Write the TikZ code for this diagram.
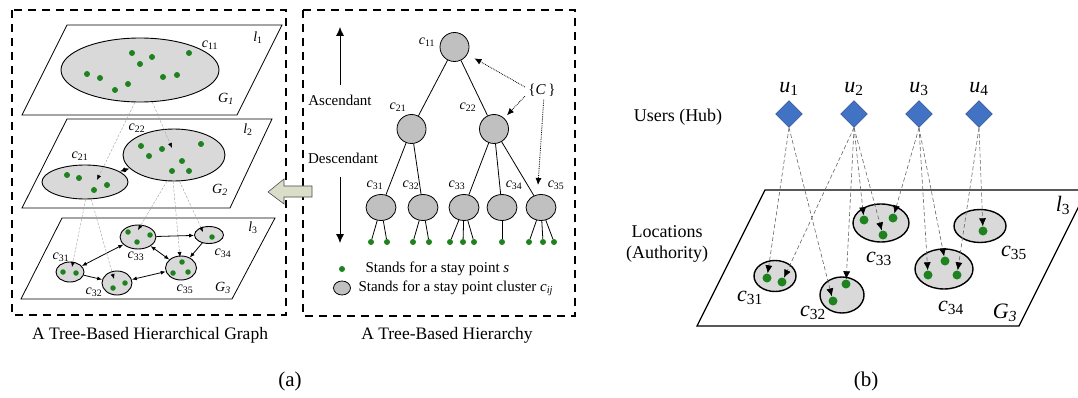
\documentclass[tikz,border=0pt]{standalone}
\usepackage{fontspec}
\setmainfont{Liberation Serif}
\usetikzlibrary{shapes.geometric,arrows.meta}
\definecolor{ptgreen}{RGB}{30,130,30}
\definecolor{clfill}{RGB}{217,217,217}
\definecolor{trfill}{RGB}{192,192,192}
\definecolor{hubblue}{RGB}{66,114,196}
\definecolor{hubedge}{RGB}{40,70,130}
\definecolor{backfill}{RGB}{218,222,200}
\newcommand{\lbl}[2]{\textit{#1}\textsubscript{#2}}

\begin{document}
\begin{tikzpicture}[x=1pt,y=-1pt,
    dashbox/.style={line width=1.3pt,dash pattern=on 8pt off 6pt},
    plane/.style={draw,fill=white,line width=0.8pt},
    clus/.style={ellipse,draw,fill=clfill,line width=0.9pt,inner sep=0pt},
    spt/.style={circle,fill=ptgreen,inner sep=0pt,minimum size=6pt},
    tnode/.style={circle,draw,fill=trfill,line width=0.8pt,inner sep=0pt,minimum size=29pt},
    link/.style={gray!70,dash pattern=on 2.5pt off 1.5pt,line width=0.45pt,-{Latex[black,length=5pt,width=4pt]}},
    gedge/.style={line width=0.8pt,-{Latex[length=5pt,width=4pt]}},
    gboth/.style={line width=0.8pt,{Latex[length=5pt,width=4pt]}-{Latex[length=5pt,width=4pt]}},
    ptr/.style={densely dotted,line width=0.8pt,-{Latex[length=7pt,width=6pt]}},
    hub/.style={diamond,draw=hubedge,fill=hubblue,inner sep=0pt,minimum size=27pt},
    hublink/.style={gray!80!black,dash pattern=on 4pt off 2.5pt,line width=0.6pt,-{Latex[black,length=8pt,width=7pt]}},
    txa/.style={font=\fontsize{14}{16}\selectfont},
    txb/.style={font=\fontsize{15}{17}\selectfont},
    captxt/.style={font=\fontsize{17.5}{20}\selectfont},
    txr/.style={font=\fontsize{18}{21}\selectfont},
    lr/.style={font=\fontsize{22}{24}\selectfont},
    bigtxt/.style={font=\fontsize{21}{24}\selectfont}]
    \useasboundingbox (0,0) rectangle (1078,398);
    \clip (0,0) rectangle (1078,398);

    % (a) left: hierarchical graph
    \draw[dashbox] (12,10) rectangle (286,315);
    \draw[plane] (67,25) -- (282,25) -- (237,115) -- (22,115) -- cycle;
    \draw[plane] (67,119) -- (272,119) -- (230,208) -- (22,208) -- cycle;
    \draw[plane] (62,218) -- (275,218) -- (232,299) -- (21,299) -- cycle;
    \node[txa] at (258,38) {\lbl{l}{1}};
    \node[txa] at (226,99) {\textit{G}\textsubscript{\textit{1}}};
    \node[txa] at (248,130) {\lbl{l}{2}};
    \node[txa] at (220,190) {\textit{G}\textsubscript{\textit{2}}};
    \node[txa] at (253,228) {\lbl{l}{3}};
    \node[txa] at (223,288) {\textit{G}\textsubscript{\textit{3}}};

    \node[clus,minimum width=158pt,minimum height=64pt] (L11) at (140,70) {};
    \node[clus,minimum width=102pt,minimum height=52pt] (L22) at (174,155) {};
    \node[clus,minimum width=86pt,minimum height=34pt] (L21) at (85,182) {};
    \node[txa] at (210,45) {\lbl{c}{11}};
    \node[txa] at (137,128) {\lbl{c}{22}};
    \node[txa] at (80,156) {\lbl{c}{21}};
    \foreach \p in {(132,53),(152,57),(140,64),(189,53),(87,74),(100,78),(128,84),(115,90),(163,77),(177,75),
                    (141,146),(162,149),(201,144),(149,156),(182,161),(172,171),(189,171),
                    (67,175),(79,178),(107,185),(94,190)}
        \node[spt] at \p {};
    \draw[line width=1.2pt,{Latex[length=6pt,width=5pt]}-{Latex[length=6pt,width=5pt]}] (L21) -- (L22);

    \node[clus,minimum width=28pt,minimum height=20pt] (L31) at (70,272) {};
    \node[clus,minimum width=30pt,minimum height=24pt] (L32) at (117,283) {};
    \node[clus,minimum width=36pt,minimum height=24pt] (L33) at (138,237) {};
    \node[clus,minimum width=29pt,minimum height=17pt] (L34) at (209,235) {};
    \node[clus,minimum width=31pt,minimum height=24pt] (L35) at (181,268) {};
    \foreach \p in {(63,272),(76,273),(113,288),(125,283),(128,232),(150,235),(137,242),
                    (212,237),(182,262),(173,273),(188,272)}
        \node[spt,minimum size=5.5pt] at \p {};
    \node[txa] at (61,257) {\lbl{c}{31}};
    \node[txa] at (94,292) {\lbl{c}{32}};
    \node[txa] at (136,256) {\lbl{c}{33}};
    \node[txa] at (223,253) {\lbl{c}{34}};
    \node[txa] at (185,289) {\lbl{c}{35}};
    \draw[gboth] (L31) -- (L33);
    \draw[gedge] (L31) -- (L32);
    \draw[gedge] (L33) -- (L34);
    \draw[gboth] (L33) -- (L35);
    \draw[gedge] (L34) -- (L35);
    \draw[gboth] (L35) -- (L32);

    \coordinate (t21) at (97,180);
    \coordinate (t22) at (172,148);
    \coordinate (t31) at (72,267);
    \coordinate (t32) at (114,279);
    \coordinate (t33) at (138,230);
    \coordinate (t34) at (203,232);
    \coordinate (t35) at (180,257);
    \draw[link] (L11.-99) -- (t21);
    \draw[link] (L11.-69) -- (t22);
    \draw[link] (L21.-88) -- (t31);
    \draw[link] (L21.-70) -- (t32);
    \draw[link] (L22.-105) -- (t33);
    \draw[link] (L22.-92) -- (t35);
    \draw[link] (L22.-78) -- (t34);
    \node[captxt] at (150,335) {A Tree-Based Hierarchical Graph};

    % (a) right: tree
    \draw[dashbox] (303,10) rectangle (575,316);
    \draw[draw=black!70,fill=backfill,line width=0.6pt] (268,192) -- (284,179) -- (284,186) -- (312,186)
        -- (312,197) -- (284,197) -- (284,204) -- cycle;
    \coordinate (asc0) at (340,85);
    \coordinate (asc1) at (340,27);
    \coordinate (des0) at (340,177);
    \coordinate (des1) at (340,243);
    \draw[line width=0.8pt,-{Latex[length=9pt,width=8pt]}] (asc0) -- (asc1);
    \draw[line width=0.8pt,-{Latex[length=9pt,width=8pt]}] (des0) -- (des1);
    \node[txb] at (340,100) {Ascendant};
    \node[txb] at (343,158) {Descendant};

    \node[tnode] (n11) at (454.5,47) {};
    \node[tnode] (n21) at (411.5,129) {};
    \node[tnode] (n22) at (494,129) {};
    \foreach \i/\x in {1/381,2/423,3/464,4/502,5/541}
        \node[tnode,ellipse,minimum width=30pt,minimum height=26pt] (n3\i) at (\x,207.5) {};
    \draw[line width=0.8pt] (n11) -- (n21) (n11) -- (n22);
    \draw[line width=0.8pt] (n21) -- (n31) (n21) -- (n32);
    \draw[line width=0.8pt] (n22) -- (n33) (n22) -- (n34) (n22) -- (n35);
    \foreach \a/\x in {1/371,1/387,2/413,2/429,3/450,3/463,3/474,4/502,5/529,5/543,5/554} {
        \node[spt] (s\a\x) at (\x,242) {};
        \draw[line width=0.8pt] (n3\a) -- (s\a\x);
    }
    \node[txa] at (427,42) {\lbl{c}{11}};
    \node[txa] at (398,107) {\lbl{c}{21}};
    \node[txa] at (468,107) {\lbl{c}{22}};
    \node[txa] at (375,185) {\lbl{c}{31}};
    \node[txa] at (411,185) {\lbl{c}{32}};
    \node[txa] at (457,185) {\lbl{c}{33}};
    \node[txa] at (514,185) {\lbl{c}{34}};
    \node[txa] at (556,185) {\lbl{c}{35}};
    \node[txb] (setC) at (542,90) {\{\textit{C}\,\}};
    \draw[ptr,shorten >=8pt] (setC.170) -- (n11);
    \draw[ptr,shorten >=4pt] (setC.200) -- (n22);
    \coordinate (tC) at (538,185);
    \draw[ptr] (setC.-80) -- (tC);

    \node[spt] (legs) at (342,269) {};
    \node[txb,anchor=west] at (362,269) {Stands for a stay point \textit{s}};
    \node[tnode,ellipse,minimum width=17pt,minimum height=14pt] (legc) at (342,288) {};
    \node[txb,anchor=west] at (355,288) {Stands for a stay point cluster \textit{c\textsubscript{ij}}};
    \node[captxt] at (447,335) {A Tree-Based Hierarchy};
    \node[bigtxt] at (290,381) {(a)};

    % (b) users and locations
    \node[txr] at (678,117) {Users (Hub)};
    \node[txr,align=center] at (667,244) {Locations\\(Authority)};
    \foreach \i/\x in {1/789,2/854,3/919,4/979} {
        \node[hub] (u\i) at (\x,114) {};
        \node[lr] at (\x,89) {\lbl{u}{\i}};
    }
    \draw[line width=1.3pt,fill=white] (765,190) -- (1087,190) -- (1019,326) -- (697,326) -- cycle;
    \node[lr] at (1063,205) {\lbl{l}{3}};
    \node[lr] at (1005,313) {\textit{G}\textsubscript{\textit{3}}};

    \node[clus,line width=1.4pt,minimum width=42pt,minimum height=31pt] (r31) at (775,276) {};
    \node[clus,line width=1.4pt,minimum width=44pt,minimum height=36pt] (r32) at (842,295) {};
    \node[clus,line width=1.4pt,minimum width=56pt,minimum height=38pt] (r33) at (881,223) {};
    \node[clus,line width=1.4pt,minimum width=58pt,minimum height=40pt] (r34) at (944,269) {};
    \node[clus,line width=1.4pt,minimum width=52pt,minimum height=33pt] (r35) at (980,226) {};
    \node[spt,minimum size=9pt] (r31a) at (767,278) {};
    \node[spt,minimum size=9pt] (r31b) at (782,282) {};
    \node[spt,minimum size=9pt] (r32a) at (846,284) {};
    \node[spt,minimum size=9pt] (r32b) at (833,301) {};
    \node[spt,minimum size=9pt] (r33a) at (864,220) {};
    \node[spt,minimum size=9pt] (r33b) at (893,218) {};
    \node[spt,minimum size=9pt] (r33c) at (883,235) {};
    \node[spt,minimum size=9pt] (r34a) at (928,275) {};
    \node[spt,minimum size=9pt] (r34b) at (945,261) {};
    \node[spt,minimum size=9pt] (r34c) at (957,275) {};
    \node[spt,minimum size=9pt] (r35a) at (983,231) {};
    \node[lr] at (750,298) {\lbl{c}{31}};
    \node[lr] at (813,313) {\lbl{c}{32}};
    \node[lr] at (879,259) {\lbl{c}{33}};
    \node[lr] at (951,308) {\lbl{c}{34}};
    \node[lr] at (1014,253) {\lbl{c}{35}};

    \draw[hublink] (u1.south) -- (r31a);
    \draw[hublink] (u1.south) -- (r32b);
    \draw[hublink] (u2.south) -- (r31b);
    \draw[hublink] (u2.south) -- (r32a);
    \draw[hublink] (u2.south) -- (r33a);
    \draw[hublink] (u2.south) -- (r33c);
    \draw[hublink] (u3.south) -- (r33b);
    \draw[hublink] (u3.south) -- (r34a);
    \draw[hublink] (u3.south) -- (r34b);
    \draw[hublink] (u4.south) -- (r34c);
    \draw[hublink] (u4.south) -- (r35a);
    \node[bigtxt] at (866,381) {(b)};
\end{tikzpicture}
\end{document}
